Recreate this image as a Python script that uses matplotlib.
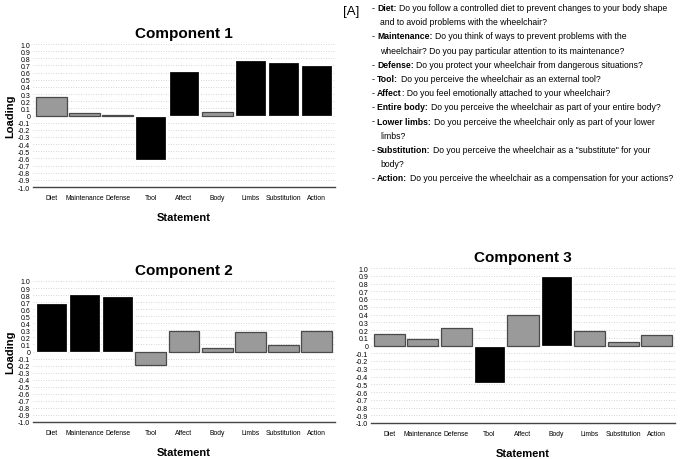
import matplotlib.pyplot as plt
import numpy as np

plt.rcParams['font.family'] = ['Liberation Sans', 'DejaVu Sans']

statements = ["Diet", "Maintenance", "Defense", "Tool", "Affect",
              "Body", "Limbs", "Substitution", "Action"]

comp1 = [0.26, 0.04, 0.01, -0.62, 0.62, 0.05, 0.77, 0.75, 0.70]
comp2 = [0.69, 0.82, 0.79, -0.19, 0.29, 0.05, 0.27, 0.09, 0.29]
comp3 = [0.15, 0.09, 0.22, -0.49, 0.39, 0.90, 0.19, 0.05, 0.13]

# True = black bar (high loading), False = grey
comp1_high = [False, False, False, True, True, False, True, True, True]
comp2_high = [True, True, True, False, False, False, False, False, False]
comp3_high = [False, False, False, True, False, True, False, False, False]

yticks = np.round(np.arange(-1.0, 1.01, 0.1), 1)
ytick_labels = ["0" if abs(v) < 1e-9 else f"{v:.1f}" for v in yticks]

legend_lines = [
    ("- ", "Diet:", "Do you follow a controlled diet to prevent changes to your body shape"),
    ("", "", "and to avoid problems with the wheelchair?"),
    ("- ", "Maintenance:", "Do you think of ways to prevent problems with the"),
    ("", "", "wheelchair? Do you pay particular attention to its maintenance?"),
    ("- ", "Defense:", "Do you protect your wheelchair from dangerous situations?"),
    ("- ", "Tool:", "Do you perceive the wheelchair as an external tool?"),
    ("- ", "Affect", ": Do you feel emotionally attached to your wheelchair?"),
    ("- ", "Entire body:", "Do you perceive the wheelchair as part of your entire body?"),
    ("- ", "Lower limbs:", "Do you perceive the wheelchair only as part of your lower"),
    ("", "", "limbs?"),
    ("- ", "Substitution:", "Do you perceive the wheelchair as a \"substitute\" for your"),
    ("", "", "body?"),
    ("- ", "Action:", "Do you perceive the wheelchair as a compensation for your actions?"),
]

W, H = 686, 460
fig = plt.figure(figsize=(W / 100, H / 100), dpi=100)


def panel(x0, x1, ytop, ybot, values, high, title, ylabel):
    ax = fig.add_axes([x0 / W, 1 - ybot / H, (x1 - x0) / W, (ybot - ytop) / H])
    x = np.arange(len(values))
    colors = ["black" if h else "#9a9a9a" for h in high]
    edges = ["white" if h else "#4a4a4a" for h in high]
    ax.bar(x, values, width=0.93, color=colors, edgecolor=edges, linewidth=0.9, zorder=3)
    ax.set_ylim(-1.0, 1.0)
    ax.set_xlim(-0.55, len(values) - 0.45)
    ax.set_yticks(yticks)
    ax.set_yticklabels(ytick_labels, fontsize=5)
    ax.set_xticks(x)
    ax.set_xticklabels(statements, fontsize=4.9)
    ax.tick_params(length=0, pad=2)
    ax.tick_params(axis="x", pad=5)
    ax.grid(axis="y", linestyle=(0, (1, 2)), color="#c8c8c8", linewidth=0.6, zorder=0)
    for s in ["top", "right", "left"]:
        ax.spines[s].set_visible(False)
    ax.spines["bottom"].set_color("#444444")
    ax.spines["bottom"].set_linewidth(1.0)
    ax.set_title(title, fontsize=11, fontweight="bold", pad=5)
    ax.set_xlabel("Statement", fontsize=8, fontweight="bold", labelpad=8)
    if ylabel:
        ax.set_ylabel("Loading", fontsize=8, fontweight="bold", labelpad=2)
    return ax


panel(33, 335, 45, 188, comp1, comp1_high, "Component 1", True)
panel(33, 335, 282, 423, comp2, comp2_high, "Component 2", True)
panel(371, 675, 269, 424, comp3, comp3_high, "Component 3", False)

# question text block: "- " + bold keyword + normal rest, placed one after another
fig.text(343 / W, 1 - 12 / H, "[A]", fontsize=9.5, va="center", ha="left")
renderer = fig.canvas.get_renderer()
fs = 6.25
y = 8.5
for dash, bold, rest in legend_lines:
    xpix = 372 if dash else 380
    if dash:
        t = fig.text(xpix / W, 1 - y / H, "-", fontsize=fs, va="center", ha="left")
        xpix += t.get_window_extent(renderer).width + 2.4
    if bold:
        t = fig.text(xpix / W, 1 - y / H, bold, fontsize=fs, fontweight="bold",
                     va="center", ha="left")
        xpix += t.get_window_extent(renderer).width
        if not rest.startswith(":"):
            xpix += 2.4
    fig.text(xpix / W, 1 - y / H, rest, fontsize=fs, va="center", ha="left")
    y += 14.2

fig.savefig("out.png", dpi=100)
